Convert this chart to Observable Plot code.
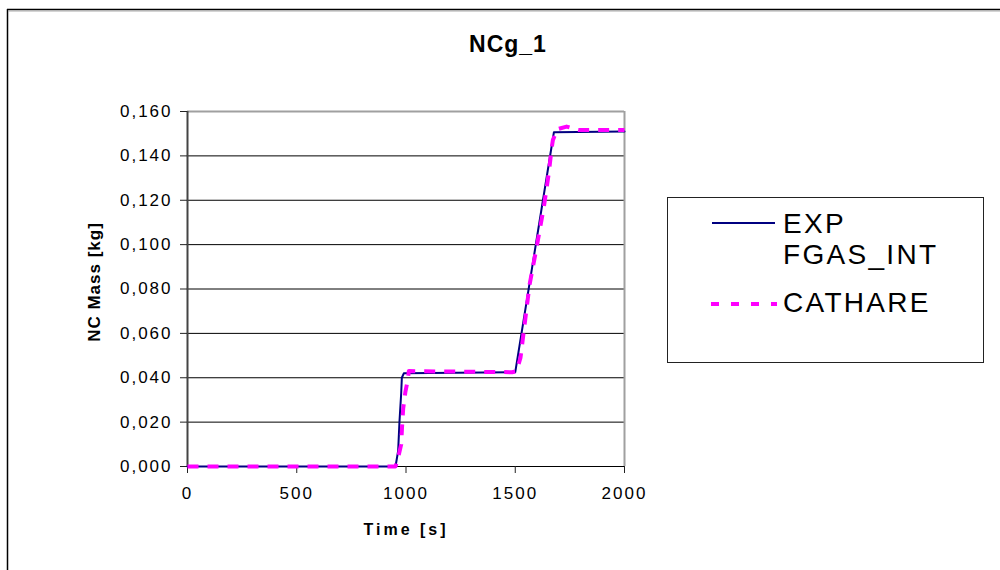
<!DOCTYPE html>
<html>
<head>
<meta charset="utf-8">
<script src="https://cdn.jsdelivr.net/npm/d3@7"></script>
<script src="https://cdn.jsdelivr.net/npm/@observablehq/plot@0.6"></script>
<style>
  html, body { margin: 0; padding: 0; background: #fff; }
  #chart { width: 1000px; height: 570px; overflow: hidden; }
  svg text { font-family: "Liberation Sans", Arial, sans-serif; }
</style>
</head>
<body>
<div id="chart"></div>
<script>
// ---- Data ----
const expTime = [0, 952, 964, 970, 978, 981, 990, 1500, 1666, 1677, 2000];
const expMass = [0, 0, 0.007, 0.020, 0.033, 0.040, 0.042, 0.0425, 0.144, 0.1507, 0.151];

const cathTime = [0, 952, 964, 978, 982, 987, 997, 1008, 1013, 1486, 1506, 1524, 1565, 1600, 1631, 1654, 1666, 1672, 1692, 1735, 1789, 2000];
const cathMass = [0, 0, 0.004, 0.010, 0.018, 0.026, 0.0335, 0.039, 0.043, 0.0425, 0.043, 0.049, 0.0816, 0.100, 0.117, 0.1326, 0.143, 0.147, 0.152, 0.1532, 0.1517, 0.1517];

const xTicks = [0, 500, 1000, 1500, 2000];
const yTicks = [0, 0.02, 0.04, 0.06, 0.08, 0.10, 0.12, 0.14, 0.16];
const gridTicks = [0.02, 0.04, 0.06, 0.08, 0.10, 0.12, 0.14];
const seriesNames = ["EXP", "FGAS_INT", "CATHARE"];
const titleText = "NCg_1";
const xLabel = "Time [s]";
const yLabel = "NC Mass [kg]";

const expData = expTime.map((t, i) => ({t, m: expMass[i]}));
const cathData = cathTime.map((t, i) => ({t, m: cathMass[i]}));

const fmtY = d => d.toFixed(3).replace(".", ",");

const plot = Plot.plot({
  width: 1000,
  height: 570,
  marginLeft: 187,
  marginRight: 376,
  marginTop: 111,
  marginBottom: 104,
  style: {fontFamily: "Liberation Sans, Arial, sans-serif", fontSize: "17px", color: "#000", background: "#fff"},
  x: {domain: [0, 2000]},
  y: {domain: [0, 0.16]},
  marks: [
    Plot.ruleY(gridTicks, {stroke: "#000", strokeWidth: 1}),
    Plot.ruleY([0.16], {stroke: "#a0a0a0", strokeWidth: 2}),
    Plot.ruleX([2000], {stroke: "#a0a0a0", strokeWidth: 2}),
    Plot.ruleY([0], {stroke: "#000", strokeWidth: 1}),
    Plot.ruleX([0], {stroke: "#444", strokeWidth: 2}),
    Plot.axisY({ticks: yTicks, tickFormat: fmtY, tickSize: 7, tickPadding: 8, label: null, stroke: "#222", fontSize: 17}),
    Plot.axisX({ticks: xTicks, tickFormat: d => String(d), tickSize: 7, tickPadding: 13, label: null, stroke: "#222", fontSize: 17}),
    Plot.line(expData, {x: "t", y: "m", stroke: "#000080", strokeWidth: 2}),
    Plot.line(cathData, {x: "t", y: "m", stroke: "#ff00ff", strokeWidth: 4, strokeDasharray: "11,9", strokeLinecap: "butt"})
  ]
});

document.getElementById("chart").appendChild(plot);

const svg = d3.select(plot);
// Tick label styling
svg.selectAll("[aria-label='y-axis tick label'] text, [aria-label='x-axis tick label'] text")
  .attr("font-size", 17).attr("letter-spacing", 2).attr("fill", "#000");
svg.selectAll("[aria-label='y-axis tick label']").attr("font-size", 17);
svg.selectAll("[aria-label='x-axis tick label']").attr("font-size", 17);

// Outer frame
svg.append("line").attr("x1", 7.5).attr("y1", 9).attr("x2", 7.5).attr("y2", 570).attr("stroke", "#000").attr("stroke-width", 1.5);
svg.append("line").attr("x1", 7).attr("y1", 9.5).attr("x2", 1000).attr("y2", 9.5).attr("stroke", "#000").attr("stroke-width", 1.5);
svg.append("line").attr("x1", 8).attr("y1", 11).attr("x2", 1000).attr("y2", 11).attr("stroke", "#aaa").attr("stroke-width", 1);

// Title
svg.append("text").text(titleText).attr("x", 508).attr("y", 52).attr("text-anchor", "middle")
  .attr("font-size", 23).attr("font-weight", "bold").attr("letter-spacing", 1).attr("fill", "#000");

// Axis titles
svg.append("text").text(xLabel).attr("x", 406).attr("y", 535).attr("text-anchor", "middle")
  .attr("font-size", 16).attr("font-weight", "bold").attr("letter-spacing", 3).attr("fill", "#000");
svg.append("text").text(yLabel).attr("transform", "translate(100,282) rotate(-90)").attr("text-anchor", "middle")
  .attr("font-size", 17).attr("font-weight", "bold").attr("letter-spacing", 1).attr("fill", "#000");

// Legend
const lg = svg.append("g").attr("text-anchor", "start");
lg.append("rect").attr("x", 667.5).attr("y", 197.5).attr("width", 316).attr("height", 165)
  .attr("fill", "#fff").attr("stroke", "#222").attr("stroke-width", 1);
lg.append("line").attr("x1", 712).attr("x2", 775).attr("y1", 223).attr("y2", 223)
  .attr("stroke", "#000080").attr("stroke-width", 2);
lg.append("line").attr("x1", 711).attr("x2", 777).attr("y1", 304).attr("y2", 304)
  .attr("stroke", "#ff00ff").attr("stroke-width", 4).attr("stroke-dasharray", "8,12");
const legText = [[seriesNames[0], 233], [seriesNames[1], 264], [seriesNames[2], 312]];
legText.forEach(([s, y]) => {
  lg.append("text").text(s).attr("x", 783).attr("y", y).attr("font-size", 28)
    .attr("text-anchor", "start").attr("letter-spacing", 2.3).attr("fill", "#000");
});
</script>
</body>
</html>
